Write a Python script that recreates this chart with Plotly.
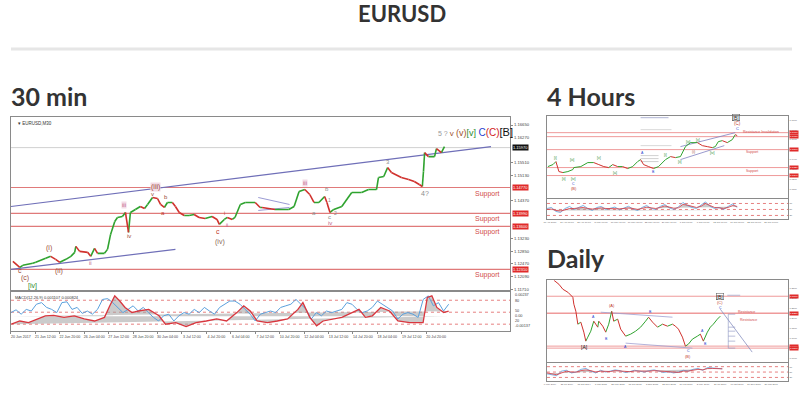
import numpy as np
import plotly.graph_objects as go

W, H = 800, 394

# ---------------- 30 min chart data (bar index, close) ----------------
m30_bar = [5, 23, 31, 57, 65, 91, 104, 117, 128, 144, 157, 167, 170, 180, 201, 209, 219, 227, 245, 253,
           261, 272, 279, 292, 300, 308, 313, 326, 339, 350, 358, 371, 384, 392, 402, 410, 423, 431, 441, 454,
           467, 480, 493, 509, 527, 540, 546, 559, 567, 580, 587, 601, 614, 640, 653, 658, 692, 728, 742, 755,
           770, 783, 794, 807, 822, 828, 836, 846, 867, 893, 919, 937, 958, 963, 977, 987, 997, 1023, 1042, 1057,
           1070, 1078, 1081, 1084, 1094, 1110, 1115, 1128, 1136]
m30_close = [1.1255, 1.1237, 1.1243, 1.1249, 1.1252, 1.1264, 1.1270, 1.1261, 1.1252, 1.1261, 1.1270, 1.1282, 1.1300, 1.1285, 1.1282, 1.1270, 1.1294, 1.1279, 1.1279, 1.1291,
             1.1336, 1.1375, 1.1387, 1.1390, 1.1402, 1.1342, 1.1402, 1.1411, 1.1420, 1.1414, 1.1426, 1.1447, 1.1444, 1.1426, 1.1417, 1.1432, 1.1432, 1.1420, 1.1402, 1.1393,
             1.1393, 1.1396, 1.1387, 1.1384, 1.1390, 1.1381, 1.1366, 1.1381, 1.1387, 1.1381, 1.1387, 1.1426, 1.1432, 1.1432, 1.1417, 1.1417, 1.1411, 1.1411, 1.1420, 1.1465,
             1.1471, 1.1456, 1.1432, 1.1432, 1.1450, 1.1432, 1.1402, 1.1411, 1.1420, 1.1462, 1.1462, 1.1471, 1.1471, 1.1507, 1.1510, 1.1537, 1.1522, 1.1507, 1.1501, 1.1495,
             1.1486, 1.1480, 1.1525, 1.1582, 1.1570, 1.1570, 1.1594, 1.1582, 1.1600]
m30_date_ticks = [0, 64, 128, 192, 256, 320, 384, 448, 512, 576, 640, 704, 768, 832, 896, 960, 1024, 1088]
m30_date_labels = ["20 Jun 2017", "21 Jun 12:00", "22 Jun 20:00", "26 Jun 04:00", "27 Jun 12:00", "28 Jun 20:00",
                   "30 Jun 04:00", "3 Jul 12:00", "4 Jul 20:00", "6 Jul 04:00", "7 Jul 12:00", "10 Jul 20:00",
                   "12 Jul 04:00", "13 Jul 12:00", "14 Jul 20:00", "18 Jul 04:00", "19 Jul 12:00", "20 Jul 20:00"]
m30_price_ticks = [1.1665, 1.1627, 1.1589, 1.1551, 1.1513, 1.1475, 1.1437, 1.1399, 1.1361, 1.1323, 1.1285, 1.1247, 1.1209, 1.1171]
m30_support = [1.1477, 1.1399, 1.1360, 1.1231]
m30_current = 1.1597
m30_upper_line_bar = [0, 1258]
m30_upper_line_px = [1.1420, 1.1600]
m30_lower_line_bar = [0, 431]
m30_lower_line_px = [1.1231, 1.1291]
m30_wedge_a_bar = [648, 730]
m30_wedge_a_px = [1.1447, 1.1426]
m30_wedge_b_bar = [648, 730]
m30_wedge_b_px = [1.1408, 1.1417]

# oscillator (MACD panel) values
macd_blue = [49, 56, 45, 57, 53, 70, 74, 62, 57, 49, 74, 76, 57, 62, 47, 53, 45, 57, 82, 84, 74, 62, 49, 57, 66, 53, 62, 49,
             37, 28, 41, 45, 28, 41, 49, 45, 57, 49, 62, 53, 45, 62, 70, 78, 78, 70, 57, 45, 28, 45, 49, 53, 49, 62, 66, 70,
             82, 70, 57, 33, 49, 41, 53, 49, 53, 57, 74, 70, 57, 49, 53, 62, 78, 70, 62, 53, 33, 45, 49, 45, 37, 82, 91, 66,
             74, 53, 70]
macd_red_bar = [1, 23, 46, 68, 90, 112, 139, 166, 192, 219, 245, 259, 272, 285, 299, 317, 334, 361, 388, 405, 432, 459, 485,
                512, 539, 565, 592, 610, 627, 645, 672, 698, 725, 752, 765, 783, 801, 818, 845, 867, 894, 912, 929, 947, 969,
                992, 1014, 1045, 1080, 1091, 1103, 1116, 1134, 1147]
macd_red = [20, 28, 24, 33, 41, 42, 37, 41, 33, 28, 37, 66, 91, 78, 62, 49, 53, 57, 41, 20, 24, 14, 24, 28, 33, 28, 49, 66,
            53, 28, 24, 28, 33, 57, 74, 37, 16, 28, 33, 37, 49, 57, 37, 41, 62, 53, 28, 24, 24, 87, 91, 62, 49, 53]
macd_levels = [80, 50, 20]
macd_zero = 40
macd_right_labels = [("0.00237", 296), ("80", 301.5), ("50", 312), ("0.00", 317), ("20", 322), ("-0.00137", 327)]

# ---------------- 4 hour chart data ----------------
h4_bar = [2, 12, 18, 24, 32, 42, 52, 54, 68, 82, 94, 104, 114, 124, 132, 142, 152, 162, 172, 182, 188, 194, 204, 214,
          224, 238, 248, 258, 268, 278, 288, 302, 312, 322, 332, 338, 344, 352, 362, 372, 378, 382]
h4_close = [1.133, 1.135, 1.138, 1.128, 1.127, 1.128, 1.130, 1.132, 1.133, 1.137, 1.137, 1.135, 1.133, 1.132, 1.135, 1.133,
            1.133, 1.131, 1.133, 1.138, 1.140, 1.135, 1.133, 1.131, 1.133, 1.140, 1.143, 1.142, 1.143, 1.153, 1.157, 1.157,
            1.154, 1.153, 1.152, 1.153, 1.158, 1.159, 1.157, 1.160, 1.165, 1.164]
h4_levels = [1.167, 1.163, 1.150, 1.132, 1.124]
h4_osc_blue = [55, 60, 40, 35, 55, 65, 50, 60, 70, 55, 45, 60, 65, 50, 55, 62, 48, 58, 66, 52, 45, 60, 70, 55, 50, 65, 75,
               58, 50, 62, 85, 70, 60, 55, 70, 88, 65, 55, 60, 50, 65, 78, 60]
h4_osc_red = [50, 52, 45, 42, 48, 55, 55, 58, 60, 55, 52, 55, 58, 55, 54, 56, 53, 55, 58, 55, 50, 55, 62, 58, 55, 60, 68,
              62, 56, 58, 75, 72, 64, 60, 66, 80, 70, 60, 58, 55, 60, 70, 65]
h4_date_labels = ["18 Apr 2017", "24 Apr 08:00", "28 Apr 16:00", "5 May 00:00", "10 May 16:00", "16 May 08:00",
                  "22 May 00:00", "26 May 16:00", "1 Jun 08:00", "7 Jun 00:00", "12 Jun 16:00", "16 Jun 08:00",
                  "22 Jun 00:00", "28 Jun 16:00"]

# ---------------- Daily chart data ----------------
d1_bar = [14, 24, 32, 42, 52, 54, 58, 62, 68, 74, 78, 82, 88, 94, 102, 104, 112, 118, 124, 130, 134, 142, 148, 158, 168,
          178, 188, 198, 204, 212, 222, 232, 242, 252, 258, 264, 272, 278, 284, 292, 302, 308, 314, 322, 328, 334, 342, 348]
d1_close = [1.390, 1.370, 1.345, 1.330, 1.305, 1.270, 1.235, 1.170, 1.180, 1.130, 1.085, 1.105, 1.135, 1.185, 1.155, 1.185,
            1.160, 1.130, 1.170, 1.235, 1.185, 1.195, 1.145, 1.110, 1.120, 1.135, 1.155, 1.185, 1.205, 1.180, 1.155, 1.170,
            1.160, 1.170, 1.160, 1.145, 1.105, 1.060, 1.070, 1.095, 1.110, 1.120, 1.085, 1.130, 1.155, 1.170, 1.195, 1.210]
d1_levels = [1.310, 1.225, 1.060, 1.050]
d1_osc_blue = [40, 35, 30, 55, 60, 45, 50, 65, 70, 55, 45, 60, 50, 55, 62, 58, 48, 52, 60, 55, 50, 58, 62, 55, 48, 52, 45,
               50, 60, 55, 65, 70, 60, 75, 72, 70, 68]
d1_osc_red = [45, 40, 35, 45, 55, 50, 50, 58, 62, 58, 50, 55, 52, 53, 58, 57, 52, 52, 56, 55, 52, 55, 58, 56, 50, 50, 47,
              48, 55, 55, 60, 65, 62, 70, 70, 70, 68]
d1_date_labels = ["6 May 2014", "25 Jul 2014", "15 Oct 2014", "5 Jan 2015", "25 Mar 2015", "15 Jun 2015", "3 Sep 2015",
                  "23 Nov 2015", "11 Feb 2016", "2 May 2016", "21 Jul 2016", "10 Oct 2016", "29 Dec 2016", "20 Mar 2017"]

# ---------------- labels ----------------
BROWN, PINK, RED, GRAY, GREEN, BLUE = "#9a4a3a", "#c0608a", "#c0392b", "#8c8c8c", "#2e8b2e", "#2a3fd0"
m30_waves = [("(iii)", 379, 1.1480, BROWN, 7, True), ("v", 371, 1.1459, BROWN, 6, False),
             ("iii", 295, 1.1423, PINK, 6, True), ("iv", 308, 1.1330, BROWN, 6, False),
             ("ii", 209, 1.1249, PINK, 6, False), ("(i)", 99, 1.1294, BROWN, 7, False),
             ("(ii)", 125, 1.1225, BROWN, 7, False), ("c", 23, 1.1227, BROWN, 7, False),
             ("(c)", 37, 1.1206, BROWN, 7, False), ("[iv]", 57, 1.1182, GREEN, 7, False),
             ("b", 407, 1.1449, BROWN, 6, False), ("a", 399, 1.1399, RED, 6, False),
             ("c", 543, 1.1345, RED, 7, False), ("(iv)", 548, 1.1312, "#8a6a5a", 7, False),
             ("i", 559, 1.1401, RED, 5, False), ("ii", 567, 1.1363, PINK, 5, False),
             ("iii", 770, 1.1492, PINK, 6, True), ("a", 794, 1.1399, GRAY, 6, False),
             ("b", 828, 1.1474, GRAY, 6, False), ("1", 836, 1.1438, GRAY, 5, False),
             ("c", 836, 1.1388, GRAY, 6, False), ("iv", 836, 1.1369, PINK, 6, False),
             ("2", 851, 1.1401, GRAY, 5, False), ("3", 987, 1.1553, GRAY, 6, False),
             ("4?", 1084, 1.1459, GRAY, 7, False)]
h4_waves = [("[B]", 380, 1.1825, "#111", 5), ("(C)", 382, 1.176, RED, 4.5), ("C", 382, 1.1715, BLUE, 4),
            ("[i]", 18, 1.1415, GREEN, 3.5), ("[ii]", 34, 1.121, GREEN, 3.5), ("[iii]", 50, 1.1395, GREEN, 3.5),
            ("[iv]", 54, 1.121, GREEN, 3.5), ("C", 54, 1.116, BLUE, 3.5), ("(B)", 54, 1.111, RED, 4),
            ("[v]", 104, 1.142, GREEN, 3.5), ("[a]", 136, 1.127, GREEN, 3.5), ("A", 192, 1.147, BLUE, 3.5),
            ("B", 214, 1.128, BLUE, 3.5), ("[i]", 238, 1.145, GREEN, 3.5), ("[ii]", 268, 1.138, GREEN, 3.5),
            ("[iii]", 284, 1.158, GREEN, 3.5), ("(i)", 294, 1.148, BROWN, 3.5), ("[v]", 304, 1.160, GREEN, 3.5),
            ("[iv]", 332, 1.147, GREEN, 3.5)]
h4_texts = [("Resistance Invalidation", 430, 1.168), ("Support", 412, 1.1475), ("Support", 412, 1.129)]
d1_waves = [("[A]", 76, 1.055, "#111", 5), ("(A)", 130, 1.262, RED, 4), ("A", 94, 1.207, BLUE, 3.5),
            ("B", 120, 1.095, BLUE, 3.5), ("B", 208, 1.232, BLUE, 3.5), ("A", 158, 1.055, BLUE, 3.5),
            ("C", 284, 1.035, BLUE, 3.5), ("(B)", 284, 1.006, RED, 4), ("A", 312, 1.137, BLUE, 3.5),
            ("B", 318, 1.070, BLUE, 3.5), ("[B]", 348, 1.307, "#111", 5), ("(C)", 348, 1.277, RED, 4),
            ("C", 348, 1.252, BLUE, 3.5)]
d1_texts = [("Resistance", 400, 1.232), ("Resistance", 404, 1.192)]

FONT = "Liberation Sans, Arial, sans-serif"


def px_x(p):
    return p / W


def px_y(p):
    return 1 - p / H


def price_traces(x, c, xa, ya, width):
    ux, uy, dx, dy = [], [], [], []
    for i in range(1, len(c)):
        if c[i] >= c[i - 1]:
            ux += [x[i - 1], x[i], None]
            uy += [c[i - 1], c[i], None]
        else:
            dx += [x[i - 1], x[i], None]
            dy += [c[i - 1], c[i], None]
    return [go.Scatter(x=ux, y=uy, mode="lines", line=dict(color="#2fa32f", width=width), xaxis=xa, yaxis=ya, hoverinfo="skip"),
            go.Scatter(x=dx, y=dy, mode="lines", line=dict(color="#d0312d", width=width), xaxis=xa, yaxis=ya, hoverinfo="skip")]


def osc_traces(xb, blue, xr, red, base, levels, xa, ya, wblue, wred, xmax):
    t = []
    for lv in levels:
        t.append(go.Scatter(x=[0, xmax], y=[lv, lv], mode="lines", line=dict(color="#e06060", width=0.8, dash="dot"),
                            xaxis=xa, yaxis=ya, hoverinfo="skip"))
    t.append(go.Scatter(x=[xr[-1], xr[0]], y=[base, base], mode="lines", line=dict(width=0), xaxis=xa, yaxis=ya, hoverinfo="skip"))
    t.append(go.Scatter(x=xr, y=red, mode="lines", line=dict(width=0), fill="tonexty", fillcolor="rgba(160,160,160,0.55)",
                        xaxis=xa, yaxis=ya, hoverinfo="skip"))
    t.append(go.Scatter(x=xb, y=blue, mode="lines", line=dict(color="#5aa0dc", width=wblue), xaxis=xa, yaxis=ya, hoverinfo="skip"))
    t.append(go.Scatter(x=xr, y=red, mode="lines", line=dict(color="#d9363e", width=wred), xaxis=xa, yaxis=ya, hoverinfo="skip"))
    return t


def hline(xa, ya, x0, x1, y, color, width, dash="solid"):
    return go.Scatter(x=[x0, x1], y=[y, y], mode="lines", line=dict(color=color, width=width, dash=dash),
                      xaxis=xa, yaxis=ya, hoverinfo="skip")


def seg(xa, ya, xs, ys, color, width):
    return go.Scatter(x=xs, y=ys, mode="lines", line=dict(color=color, width=width), xaxis=xa, yaxis=ya, hoverinfo="skip")


traces = []
annotations = []

# ---- 30 min ----
M30_XMAX = 1308
for lv in m30_support:
    traces.append(hline("x", "y", 0, M30_XMAX, lv, "#e07a7a", 1.2))
traces.append(hline("x", "y", 0, M30_XMAX, m30_current, "#d0d0d0", 1))
traces.append(seg("x", "y", m30_upper_line_bar, m30_upper_line_px, "#6f6fb8", 1.2))
traces.append(seg("x", "y", m30_lower_line_bar, m30_lower_line_px, "#6f6fb8", 1.2))
traces.append(seg("x", "y", m30_wedge_a_bar, m30_wedge_a_px, "#8080c8", 0.8))
traces.append(seg("x", "y", m30_wedge_b_bar, m30_wedge_b_px, "#8080c8", 0.8))
traces += price_traces(m30_bar, m30_close, "x", "y", 1.6)

macd_blue_x = np.linspace(0, 1147, len(macd_blue))
traces += osc_traces(macd_blue_x, macd_blue, macd_red_bar, macd_red, macd_zero, macd_levels, "x2", "y2", 1.0, 1.3, M30_XMAX)

for txt, xb, yp, col, sz, box in m30_waves:
    annotations.append(dict(x=xb, y=yp, xref="x", yref="y", text=txt, showarrow=False,
                            xanchor="center", yanchor="middle",
                            font=dict(family=FONT, size=sz, color=col),
                            bgcolor="#f3dbe6" if box else None, borderpad=0))
for lv in m30_support:
    annotations.append(dict(x=1250, y=lv, xref="x", yref="y", text="Support", showarrow=False, yshift=-6,
                            xanchor="center", yanchor="middle",
                            font=dict(family=FONT, size=7, color="#d24b4b")))
    annotations.append(dict(x=1.003, y=lv, xref="x domain", yref="y", text=f"{lv:.5f}", showarrow=False,
                            xanchor="left", yanchor="middle",
                            font=dict(family=FONT, size=4, color="white"), bgcolor="#e02a2a", borderpad=0))
annotations.append(dict(x=1.003, y=m30_current, xref="x domain", yref="y", text=f"{m30_current:.5f}", showarrow=False,
                        xanchor="left", yanchor="middle",
                        font=dict(family=FONT, size=4, color="white"), bgcolor="#111", borderpad=0))
annotations.append(dict(x=1217, y=1.1643, xref="x", yref="y", showarrow=False, xanchor="center", yanchor="middle",
                        text=('<span style="color:#999;font-size:7px">5 ? </span>'
                              '<span style="color:#a0522d;font-size:8px">v </span>'
                              '<span style="color:#a0522d;font-size:9px">(v)</span>'
                              '<span style="color:#2e8b2e;font-size:9px">[v] </span>'
                              '<span style="color:#2a3fd0;font-size:10px">C</span>'
                              '<span style="color:#d02020;font-size:10px">(C)</span>'
                              '<span style="color:#111;font-size:11px">[B]</span>'),
                        font=dict(family=FONT, size=9)))
annotations.append(dict(x=0.01, y=0.985, xref="x domain", yref="y domain", text="▾ EURUSD,M30", showarrow=False,
                        xanchor="left", yanchor="top", font=dict(family=FONT, size=4.5, color="#333")))
annotations.append(dict(x=0.005, y=0.97, xref="x2 domain", yref="y2 domain", text="MACD(12,26,9) 0.001107 0.000824",
                        showarrow=False, xanchor="left", yanchor="top", font=dict(family=FONT, size=4, color="#333")))
for txt, ypx in macd_right_labels:
    annotations.append(dict(x=px_x(512), y=px_y(ypx), xref="paper", yref="paper", text=txt, showarrow=False,
                            xanchor="left", yanchor="middle", font=dict(family=FONT, size=3.8, color="#444")))

# price ticks that are not covered by a coloured level box
boxed = m30_support + [m30_current]
m30_shown_ticks = [v for v in m30_price_ticks if min(abs(v - b) for b in boxed) > 0.0012]

# ---- 4H ----
H4_XMAX = 484
for lv in h4_levels:
    traces.append(hline("x3", "y3", 0, H4_XMAX, lv, "#ef9a9a", 1))
    annotations.append(dict(x=1.004, y=lv, xref="x3 domain", yref="y3", text=f"{lv:.4f}", showarrow=False,
                            xanchor="left", yanchor="middle",
                            font=dict(family=FONT, size=2.5, color="white"), bgcolor="#e02a2a", borderpad=0))
traces.append(hline("x3", "y3", 188, 244, 1.182, "#9aa0c8", 0.8))
traces.append(hline("x3", "y3", 188, 250, 1.170, "#c0c0c0", 0.6))
traces.append(hline("x3", "y3", 188, 250, 1.154, "#c0c0c0", 0.6))
for lv in [1.144, 1.141, 1.138]:
    traces.append(hline("x3", "y3", 188, 224, lv, "#b0b0b0", 0.6))
traces.append(seg("x3", "y3", [268, 378], [1.153, 1.167], "#8080c0", 0.8))
traces.append(seg("x3", "y3", [268, 356], [1.140, 1.154], "#8080c0", 0.8))
traces += price_traces(h4_bar, h4_close, "x3", "y3", 1.0)
h4x = np.linspace(0, 382, len(h4_osc_blue))
traces += osc_traces(h4x, h4_osc_blue, h4x, h4_osc_red, 45, [80, 50, 20], "x4", "y4", 0.8, 0.8, H4_XMAX)
for txt, xb, yp, col, sz in h4_waves:
    annotations.append(dict(x=xb, y=yp, xref="x3", yref="y3", text=txt, showarrow=False,
                            xanchor="center", yanchor="middle",
                            font=dict(family=FONT, size=sz, color=col), borderpad=0,
                            bordercolor="#555" if txt == "[B]" else None, borderwidth=0.5 if txt == "[B]" else 0))
for txt, xb, yp in h4_texts:
    annotations.append(dict(x=xb, y=yp, xref="x3", yref="y3", text=txt, showarrow=False,
                            xanchor="center", yanchor="middle",
                            font=dict(family=FONT, size=3.5, color="#d24b4b")))

# ---- Daily ----
D1_XMAX = 484
for lv in d1_levels:
    traces.append(hline("x5", "y5", 0, D1_XMAX, lv, "#ef9a9a", 1.6 if lv == 1.225 else 1))
    annotations.append(dict(x=1.004, y=lv, xref="x5 domain", yref="y5", text=f"{lv:.4f}", showarrow=False,
                            xanchor="left", yanchor="middle",
                            font=dict(family=FONT, size=2.5, color="white"), bgcolor="#e02a2a", borderpad=0))
traces.append(seg("x5", "y5", [108, 252], [1.230, 1.205], "#a0a0d0", 0.8))
traces.append(seg("x5", "y5", [158, 292], [1.075, 1.050], "#a0a0d0", 0.8))
traces.append(seg("x5", "y5", [348, 412], [1.245, 1.030], "#8890c0", 0.8))
traces.append(seg("x5", "y5", [364, 364], [1.220, 1.050], "#8890c0", 0.6))
for lv in [1.220, 1.155, 1.135, 1.110, 1.085, 1.050]:
    traces.append(hline("x5", "y5", 364, 378, lv, "#8890c0", 0.6))
traces.append(hline("x5", "y5", 362, 388, 1.315, "#8890c0", 0.6))
traces += price_traces(d1_bar, d1_close, "x5", "y5", 1.0)
d1x = np.linspace(0, 352, len(d1_osc_blue))
traces += osc_traces(d1x, d1_osc_blue, d1x, d1_osc_red, 45, [80, 50, 20], "x6", "y6", 0.8, 0.8, D1_XMAX)
for txt, xb, yp, col, sz in d1_waves:
    annotations.append(dict(x=xb, y=yp, xref="x5", yref="y5", text=txt, showarrow=False,
                            xanchor="center", yanchor="middle",
                            font=dict(family=FONT, size=sz, color=col), borderpad=0,
                            bordercolor="#555" if txt == "[B]" else None, borderwidth=0.5 if txt == "[B]" else 0))
for txt, xb, yp in d1_texts:
    annotations.append(dict(x=xb, y=yp, xref="x5", yref="y5", text=txt, showarrow=False,
                            xanchor="center", yanchor="middle",
                            font=dict(family=FONT, size=3.5, color="#d24b4b")))

# ---- headings ----
HFONT = "Lato, Open Sans, sans-serif"
annotations.append(dict(x=0.5, y=px_y(14), xref="paper", yref="paper", text="<b>EURUSD</b>", showarrow=False,
                        xanchor="center", yanchor="middle", font=dict(family=HFONT, size=22, color="#333")))
for txt, xpx, ypx in [("30 min", 6, 96), ("4 Hours", 544, 96), ("Daily", 544, 259)]:
    annotations.append(dict(x=px_x(xpx), y=px_y(ypx), xref="paper", yref="paper", text=f"<b>{txt}</b>", showarrow=False,
                            xanchor="left", yanchor="middle", font=dict(family=HFONT, size=25, color="#333")))

fig = go.Figure(traces)

frame = dict(showline=True, mirror=True, linecolor="#8a8a8a", linewidth=1, showgrid=False, zeroline=False)
small = dict(family=FONT, size=4.2, color="#444")
dates = dict(family=FONT, size=3.6, color="#444")
tiny = dict(family=FONT, size=2.4, color="#666")

fig.update_layout(
    width=W, height=H, margin=dict(l=0, r=0, t=0, b=0), autosize=False,
    paper_bgcolor="white", plot_bgcolor="white", showlegend=False,
    annotations=annotations,
    shapes=[dict(type="line", xref="paper", yref="paper", x0=px_x(8), x1=px_x(792), y0=px_y(49), y1=px_y(49),
                 line=dict(color="#e6e6e6", width=3))],
    xaxis=dict(domain=[px_x(8), px_x(509)], range=[0, M30_XMAX], anchor="y", showticklabels=False, **frame),
    yaxis=dict(domain=[px_y(291), px_y(117)], range=[1.1168, 1.1690], anchor="x", side="right",
               tickvals=m30_shown_ticks, ticktext=[f"{v:.5f}" for v in m30_shown_ticks], tickfont=small,
               ticks="outside", ticklen=2, tickcolor="#888", **frame),
    xaxis2=dict(domain=[px_x(8), px_x(509)], range=[0, M30_XMAX], anchor="y2", tickvals=m30_date_ticks,
                ticktext=m30_date_labels, tickfont=dates, ticks="outside", ticklen=2, tickcolor="#888",
                ticklabelshift=10, ticklabelstandoff=0, tickangle=0, **frame),
    yaxis2=dict(domain=[px_y(332), px_y(293)], range=[2.5, 100], anchor="x2", side="right", showticklabels=False, **frame),
    xaxis3=dict(domain=[px_x(546), px_x(788)], range=[0, H4_XMAX], anchor="y3", showticklabels=False, **frame),
    yaxis3=dict(domain=[px_y(199), px_y(116)], range=[1.101, 1.184], anchor="x3", side="right", tickfont=tiny,
                nticks=14, tickformat=".4f", ticks="", **frame),
    xaxis4=dict(domain=[px_x(546), px_x(788)], range=[0, H4_XMAX], anchor="y4",
                tickvals=list(np.linspace(6, 450, len(h4_date_labels))), ticktext=h4_date_labels, tickfont=tiny,
                tickangle=0, ticks="", **frame),
    yaxis4=dict(domain=[px_y(220), px_y(200)], range=[0, 100], anchor="x4", side="right", tickfont=tiny,
                tickvals=[20, 50, 80], ticks="", **frame),
    xaxis5=dict(domain=[px_x(546), px_x(788)], range=[0, D1_XMAX], anchor="y5", showticklabels=False, **frame),
    yaxis5=dict(domain=[px_y(363), px_y(281)], range=[0.980, 1.390], anchor="x5", side="right", tickfont=tiny,
                nticks=14, tickformat=".4f", ticks="", **frame),
    xaxis6=dict(domain=[px_x(546), px_x(788)], range=[0, D1_XMAX], anchor="y6",
                tickvals=list(np.linspace(6, 450, len(d1_date_labels))), ticktext=d1_date_labels, tickfont=tiny,
                tickangle=0, ticks="", **frame),
    yaxis6=dict(domain=[px_y(382), px_y(364)], range=[0, 100], anchor="x6", side="right", tickfont=tiny,
                tickvals=[20, 50, 80], ticks="", **frame),
)

fig.write_html("out.html", config={"displayModeBar": False},
               post_script="document.body.style.margin='0px';")
